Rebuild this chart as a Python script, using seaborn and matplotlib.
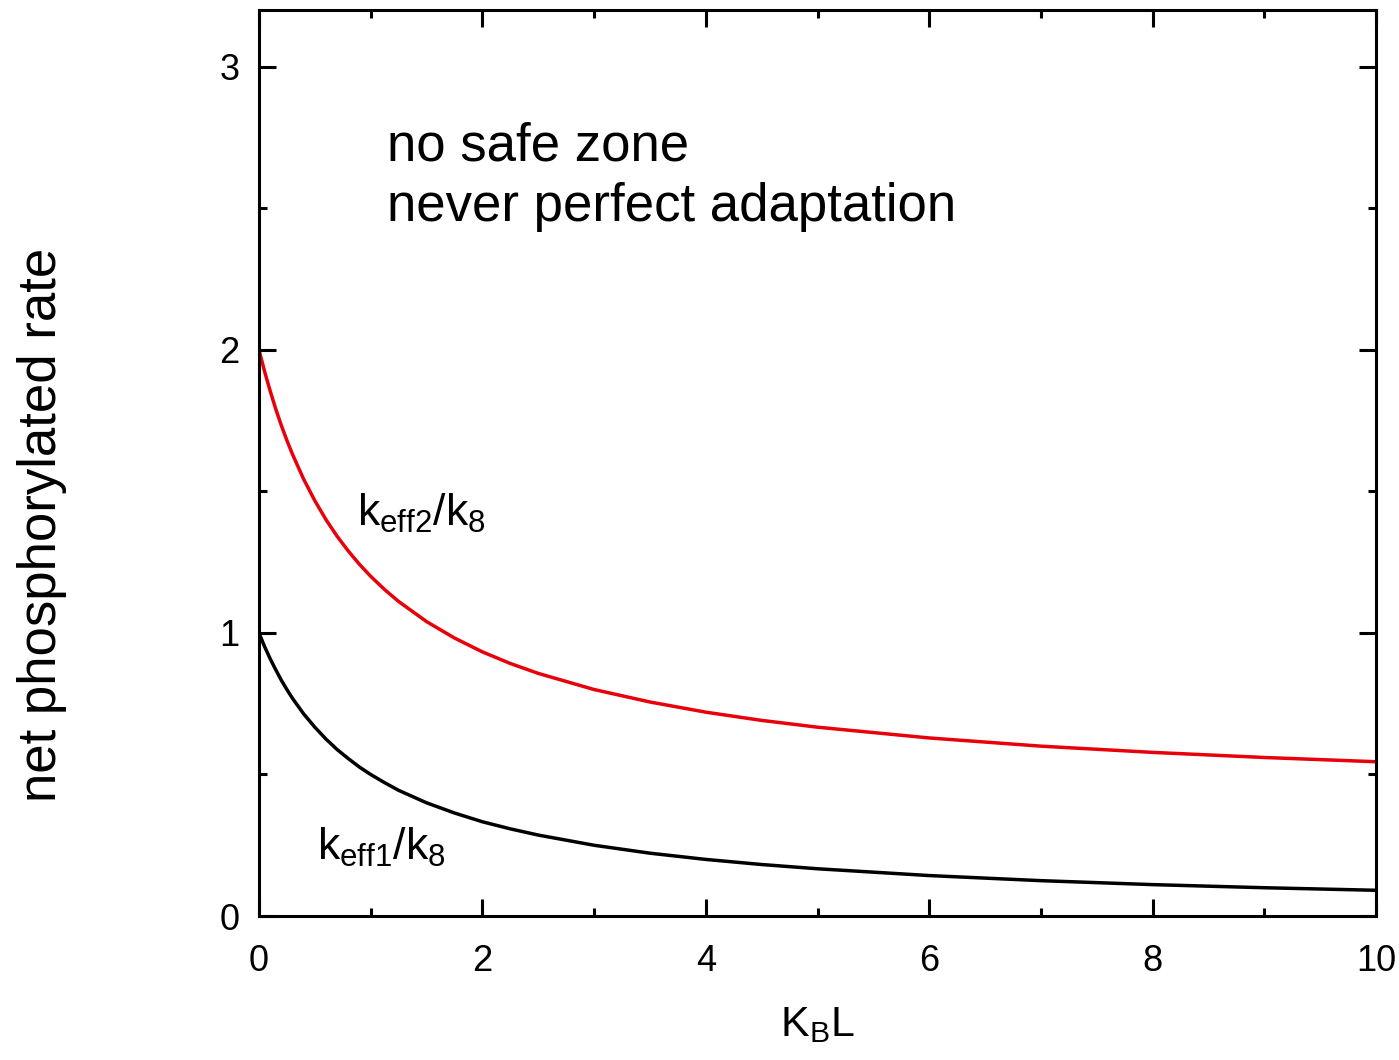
import numpy as np
import pandas as pd
import seaborn as sns
import matplotlib.pyplot as plt
from matplotlib.ticker import MultipleLocator

# values
kbl = [0, 0.05, 0.1, 0.15, 0.2, 0.25, 0.3, 0.4, 0.5, 0.6, 0.7, 0.8, 0.9,
       1.0, 1.125, 1.25, 1.5, 1.75, 2, 2.25, 2.5, 3, 3.5, 4, 4.5, 5, 6, 7,
       8, 9, 10]
keff1 = [1.0, 0.952, 0.909, 0.870, 0.833, 0.8, 0.769, 0.714, 0.667, 0.625,
         0.588, 0.556, 0.526, 0.5, 0.471, 0.444, 0.4, 0.364, 0.333, 0.308,
         0.286, 0.25, 0.222, 0.2, 0.182, 0.167, 0.143, 0.125, 0.111, 0.1,
         0.091]
keff2 = [2.0, 1.924, 1.855, 1.791, 1.733, 1.68, 1.631, 1.543, 1.467, 1.4,
         1.341, 1.289, 1.242, 1.2, 1.153, 1.111, 1.04, 0.982, 0.933, 0.892,
         0.857, 0.8, 0.756, 0.72, 0.691, 0.667, 0.629, 0.6, 0.578, 0.56,
         0.545]

df = pd.DataFrame({"KBL": kbl * 2,
                   "rate": keff1 + keff2,
                   "curve": ["keff1"] * len(kbl) + ["keff2"] * len(kbl)})

sns.set_style("ticks")
plt.rcParams['font.family'] = ['Liberation Sans', 'DejaVu Sans']
plt.rcParams['text.color'] = 'black'
plt.rcParams['axes.labelcolor'] = 'black'
plt.rcParams['mathtext.fontset'] = 'custom'
plt.rcParams['mathtext.rm'] = 'Liberation Sans'
plt.rcParams['mathtext.it'] = 'Liberation Sans'

fig = plt.figure(figsize=(13.99, 10.60), dpi=100)
ax = fig.add_axes([0.1851, 0.1358, 0.7985, 0.8548])

sns.lineplot(data=df, x="KBL", y="rate", hue="curve",
             palette={"keff1": "black", "keff2": "#e8000b"},
             linewidth=2.5, legend=False, ax=ax)

ax.set(xlim=(0, 10), ylim=(0, 3.2))
ax.xaxis.set_major_locator(MultipleLocator(2))
ax.xaxis.set_minor_locator(MultipleLocator(1))
ax.yaxis.set_major_locator(MultipleLocator(1))
ax.yaxis.set_minor_locator(MultipleLocator(0.5))
ax.tick_params(which="both", direction="in", top=True, right=True,
               width=2.2, labelsize=26, colors="black")
ax.tick_params(which="major", length=12)
ax.tick_params(axis="x", which="major", pad=20)
ax.tick_params(axis="y", which="major", pad=14)
ax.tick_params(which="minor", length=6)
for s in ax.spines.values():
    s.set_linewidth(2.2)
    s.set_color("black")

ax.set_xlabel(r"K$_\mathrm{B}$L", fontsize=31)
ax.xaxis.set_label_coords(0.5, -0.133, transform=ax.transAxes)
ax.xaxis.label.set_va("baseline")
ax.set_ylabel("net phosphorylated rate", fontsize=38)
ax.yaxis.set_label_coords(-0.194, 0.4316)
ax.yaxis.label.set_va("center")

ax.text(1.15, 2.668, "no safe zone", fontsize=38, va="baseline")
ax.text(1.15, 2.456, "never perfect adaptation", fontsize=38, va="baseline")
ax.text(0.88, 1.38, r"k$_\mathrm{eff2}$/k$_\mathrm{8}$", fontsize=32)
ax.text(0.52, 0.2, r"k$_\mathrm{eff1}$/k$_\mathrm{8}$", fontsize=32)

fig.savefig("out.png", dpi=100)
